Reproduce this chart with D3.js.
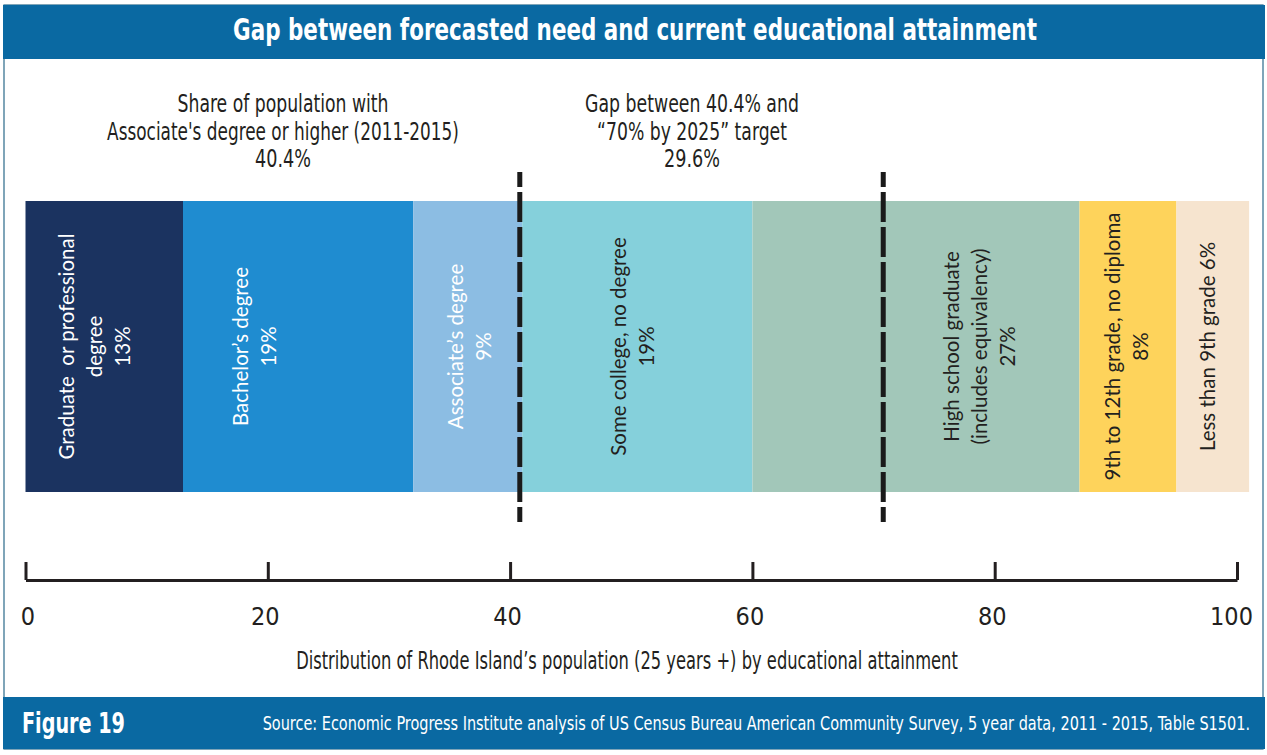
<!DOCTYPE html>
<html>
<head>
<meta charset="utf-8">
<script src="https://cdn.jsdelivr.net/npm/d3@7"></script>
<style>
  body { margin: 0; background: #fff; }
  .narrow { font-family: "Liberation Sans Narrow", "DejaVu Sans Condensed", sans-serif; font-stretch: condensed; }
  .lbl { font-family: Lato, "Noto Sans", sans-serif; white-space: pre; }
</style>
</head>
<body>
<div id="chart"></div>
<script>
// Anteile der Bevoelkerung (25+) nach Bildungsabschluss
const categories = ["Graduate or professional degree", "Bachelor’s degree", "Associate’s degree",
  "Some college, no degree", "High school graduate (includes equivalency)",
  "9th to 12th grade, no diploma", "Less than 9th grade"];
const shares = [13, 19, 9, 19, 27, 8, 6];
const labelLines = [
  ["Graduate  or professional", "degree", "13%"],
  ["Bachelor’s degree", "19%"],
  ["Associate’s degree", "9%"],
  ["Some college, no degree", "19%"],
  ["High school graduate", "(includes equivalency)", "27%"],
  ["9th to 12th grade, no diploma", "8%"],
  ["Less than 9th grade 6%"]
];
const labelAt = [5.7, 18.9, 36.7, 50.1, 78.8, 90.9, 97.6];   // Lage der Beschriftung (Datenwerte)
const gapMarks = [40.8, 70.8];                             // gestrichelte Linien
const tickValues = [0, 20, 40, 60, 80, 100];

const palette = ["#1b3360", "#1f8cd0", "#8cbde3", "#85d0db", "#a2c7b9", "#fed35b", "#f6e4cf"];
const textColor = ["#fff", "#fff", "#fff", "#231f20", "#231f20", "#231f20", "#231f20"];

const W = 1267, H = 755;
const svg = d3.select("#chart").append("svg")
    .attr("width", W)
    .attr("height", H);

const x = d3.scaleLinear().domain([0, 100]).range([25.5, 1237]);
const barTop = 201, barBottom = 492;

// Text horizontal auf eine Breite stauchen (per scale, damit die Box stimmt)
function squeeze(sel, px, py, target) {
  const w = sel.node().getComputedTextLength();
  const k = Math.min(1, target / w);
  sel.attr("x", 0).attr("y", 0)
     .attr("transform", `translate(${px},${py}) scale(${k},1)`);
  return sel;
}

// Rahmen
svg.append("rect")
    .attr("x", 4).attr("y", 5).attr("width", 1259).attr("height", 744)
    .attr("fill", "none").attr("stroke", "#2b6a8a").attr("stroke-width", 1.2);

// Titelleiste
svg.append("rect")
    .attr("x", 3).attr("y", 5).attr("width", 1262).attr("height", 54)
    .attr("fill", "#0a69a2");
squeeze(svg.append("text")
    .attr("class", "narrow")
    .attr("text-anchor", "middle")
    .attr("fill", "#fff")
    .attr("font-size", 30).attr("font-weight", "bold")
    .text("Gap between forecasted need and current educational attainment"), 635, 40, 804);

// Fusszeile
svg.append("rect")
    .attr("x", 3).attr("y", 697).attr("width", 1262).attr("height", 52)
    .attr("fill", "#0a69a2");
squeeze(svg.append("text")
    .attr("class", "narrow")
    .attr("fill", "#fff")
    .attr("font-size", 29).attr("font-weight", "bold")
    .text("Figure 19"), 22, 733, 103);
squeeze(svg.append("text")
    .attr("class", "narrow")
    .attr("text-anchor", "end")
    .attr("fill", "#fff")
    .attr("font-size", 20)
    .text("Source: Economic Progress Institute analysis of US Census Bureau American Community Survey, 5 year data, 2011 - 2015, Table S1501."), 1250, 730, 988);

// Anmerkungen oben
const notes = [
  {cx: 283, lines: ["Share of population with", "Associate's degree or higher (2011-2015)", "40.4%"], len: [211, 352, 56]},
  {cx: 692, lines: ["Gap between 40.4% and", "“70% by 2025” target", "29.6%"], len: [214, 190, 56]}
];
notes.forEach(n => {
  n.lines.forEach((t, i) => {
    squeeze(svg.append("text")
        .attr("class", "narrow")
        .attr("text-anchor", "middle")
        .attr("fill", "#231f20")
        .attr("font-size", 25)
        .text(t), n.cx, 112 + i * 27.5, n.len[i]);
  });
});

// Balkensegmente
const ends = d3.cumsum(shares);
const segs = shares.map((v, i) => ({name: categories[i], v: v, x0: ends[i] - v, x1: ends[i], i: i}));

svg.append("g")
    .selectAll("rect")
    .data(segs)
    .enter().append("rect")
    .attr("x", d => x(d.x0))
    .attr("y", barTop)
    .attr("width", d => x(d.x1) - x(d.x0))
    .attr("height", barBottom - barTop)
    .attr("fill", d => palette[d.i]);

const lab = svg.append("g")
    .selectAll("g")
    .data(segs)
    .enter().append("g")
    .attr("transform", d => `translate(${x(labelAt[d.i])},${(barTop + barBottom) / 2}) rotate(-90)`);

lab.each(function(d) {
  const lines = labelLines[d.i];
  d3.select(this).selectAll("text")
      .data(lines)
      .enter().append("text")
      .attr("class", "lbl")
      .attr("x", 0)
      .attr("y", (t, j) => (j - (lines.length - 1) / 2) * 28)
      .attr("dy", "0.35em")
      .attr("text-anchor", "middle")
      .attr("font-size", 20.5)
      .attr("fill", textColor[d.i])
      .text(t => t);
});

// gestrichelte Linien
svg.append("g")
    .selectAll("line")
    .data(gapMarks)
    .enter().append("line")
    .attr("x1", d => x(d)).attr("x2", d => x(d))
    .attr("y1", 172).attr("y2", 522)
    .attr("stroke", "#1a1a1a")
    .attr("stroke-width", 5)
    .attr("stroke-dasharray", "30,5")
    .attr("stroke-dashoffset", 15);

// Achse
const axisY = 580;
const axis = svg.append("g")
    .attr("transform", `translate(0,${axisY})`)
    .call(d3.axisTop(x).tickValues(tickValues).tickSize(18).tickSizeOuter(0).tickFormat(""));
axis.select(".domain").attr("stroke", "#231f20").attr("stroke-width", 3);
axis.selectAll(".tick line").attr("stroke", "#231f20").attr("stroke-width", 3);

const axisLabels = svg.append("g")
    .attr("transform", `translate(0,${axisY})`)
    .call(d3.axisBottom(x).tickValues(tickValues).tickSize(0).tickPadding(0));
axisLabels.select(".domain").remove();
axisLabels.selectAll(".tick text")
    .attr("class", "narrow")
    .attr("y", 45).attr("dy", 0)
    .attr("dx", d => d === 100 ? -6 : (d === 0 ? 2 : -3))
    .attr("fill", "#231f20")
    .attr("font-size", 25)
    .style("font-family", "'Liberation Sans Narrow', 'DejaVu Sans Condensed', sans-serif");

squeeze(svg.append("text")
    .attr("class", "narrow")
    .attr("text-anchor", "middle")
    .attr("fill", "#231f20")
    .attr("font-size", 24)
    .text("Distribution of Rhode Island’s population (25 years +) by educational attainment"), 627, 669, 662);
</script>
</body>
</html>
